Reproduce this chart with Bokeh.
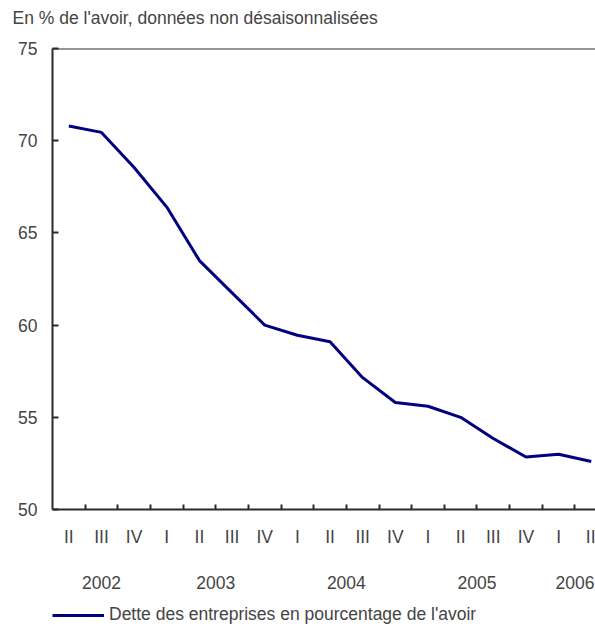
from bokeh.plotting import figure
from bokeh.layouts import column
from bokeh.models import (FixedTicker, LinearAxis, Range1d, Span, Legend, LegendItem,
                          ColumnDataSource)
from bokeh.embed import file_html
from bokeh.resources import INLINE

# ---- data ----
quarters = ["II", "III", "IV", "I", "II", "III", "IV", "I", "II", "III", "IV",
            "I", "II", "III", "IV", "I", "II"]
years = ["2002", "2003", "2004", "2005", "2006"]
year_pos = [1, 4.5, 8.5, 12.5, 15.5]
debt_ratio = [70.8, 70.45, 68.55, 66.4, 63.5, 61.75, 60.0, 59.45, 59.1, 57.15,
              55.8, 55.6, 55.0, 53.85, 52.85, 53.0, 52.6]
title_text = "En % de l'avoir, données non désaisonnalisées"
series_name = "Dette des entreprises en pourcentage de l'avoir"
y_ticks = [50, 55, 60, 65, 70, 75]

FONT = "Liberation Sans"
FS = "17.5px"
AXC = "#2a2a2a"
LINE_C = "#000080"
W = 595

idx = list(range(len(quarters)))
src = ColumnDataSource(dict(x=idx, y=debt_ratio))
XR = Range1d(-0.5, 16.13)


def bare(height, **kw):
    f = figure(width=W, height=height, output_backend="svg", toolbar_location=None,
               x_range=XR, y_range=Range1d(0, 1),
               x_axis_type=None, y_axis_type=None,
               min_border_left=52, min_border_right=0, **kw)
    f.outline_line_color = None
    f.grid.visible = False
    return f


# ---- title strip ----
p0 = bare(36, min_border_top=4, min_border_bottom=0)
p0.title.text = title_text
p0.title.text_font = FONT
p0.title.text_font_size = FS
p0.title.text_font_style = "normal"
p0.title.align = "left"
p0.title.offset = -40

# ---- main chart ----
p = figure(width=W, height=560, output_backend="svg", toolbar_location=None,
           x_range=XR, y_range=Range1d(50, 75),
           x_axis_type=None, y_axis_type=None,
           min_border_left=52, min_border_right=0, min_border_top=12,
           min_border_bottom=87)
p.outline_line_color = None
p.grid.visible = False

yax = LinearAxis(ticker=FixedTicker(ticks=y_ticks))
yax.axis_line_color = AXC
yax.axis_line_width = 2
yax.major_tick_in = 6
yax.major_tick_out = 0
yax.major_tick_line_color = AXC
yax.major_tick_line_width = 2
yax.minor_tick_line_color = None
yax.major_label_text_font = FONT
yax.major_label_text_font_size = FS
yax.major_label_standoff = 15
p.add_layout(yax, "left")

xax = LinearAxis(ticker=FixedTicker(ticks=idx, minor_ticks=[i + 0.5 for i in idx]))
xax.major_label_overrides = {i: q for i, q in zip(idx, quarters)}
xax.axis_line_color = AXC
xax.axis_line_width = 2
xax.major_tick_line_color = None
xax.major_tick_in = 0
xax.major_tick_out = 0
xax.minor_tick_in = 5
xax.minor_tick_out = 0
xax.minor_tick_line_color = AXC
xax.minor_tick_line_width = 2
xax.major_label_text_font = FONT
xax.major_label_text_font_size = FS
xax.major_label_standoff = 17
p.add_layout(xax, "below")

yrax = LinearAxis(ticker=FixedTicker(ticks=year_pos, minor_ticks=[]))
yrax.major_label_overrides = {pos: y for pos, y in zip(year_pos, years)}
yrax.axis_line_color = None
yrax.major_tick_line_color = None
yrax.minor_tick_line_color = None
yrax.major_tick_in = 0
yrax.major_tick_out = 0
yrax.major_label_text_font = FONT
yrax.major_label_text_font_size = FS
yrax.major_label_standoff = 26
p.add_layout(yrax, "below")

p.add_layout(Span(location=75, dimension="width", line_color=AXC, line_width=2))

p.line("x", "y", source=src, line_color=LINE_C, line_width=3)

# ---- legend strip (series renderer lies outside this strip's y range) ----
p2 = bare(33, min_border_top=0, min_border_bottom=0)
sample = p2.line("x", "y", source=src, line_color=LINE_C, line_width=3)
legend = Legend(items=[LegendItem(label=series_name, renderers=[sample])],
                location=(0, 4), orientation="horizontal",
                glyph_width=52, glyph_height=18, label_standoff=5,
                padding=3, margin=0, border_line_color=None,
                background_fill_alpha=0,
                label_text_font=FONT, label_text_font_size=FS)
p2.add_layout(legend)

layout = column(p0, p, p2, spacing=0)
open("out.html", "w").write(file_html(layout, INLINE))
